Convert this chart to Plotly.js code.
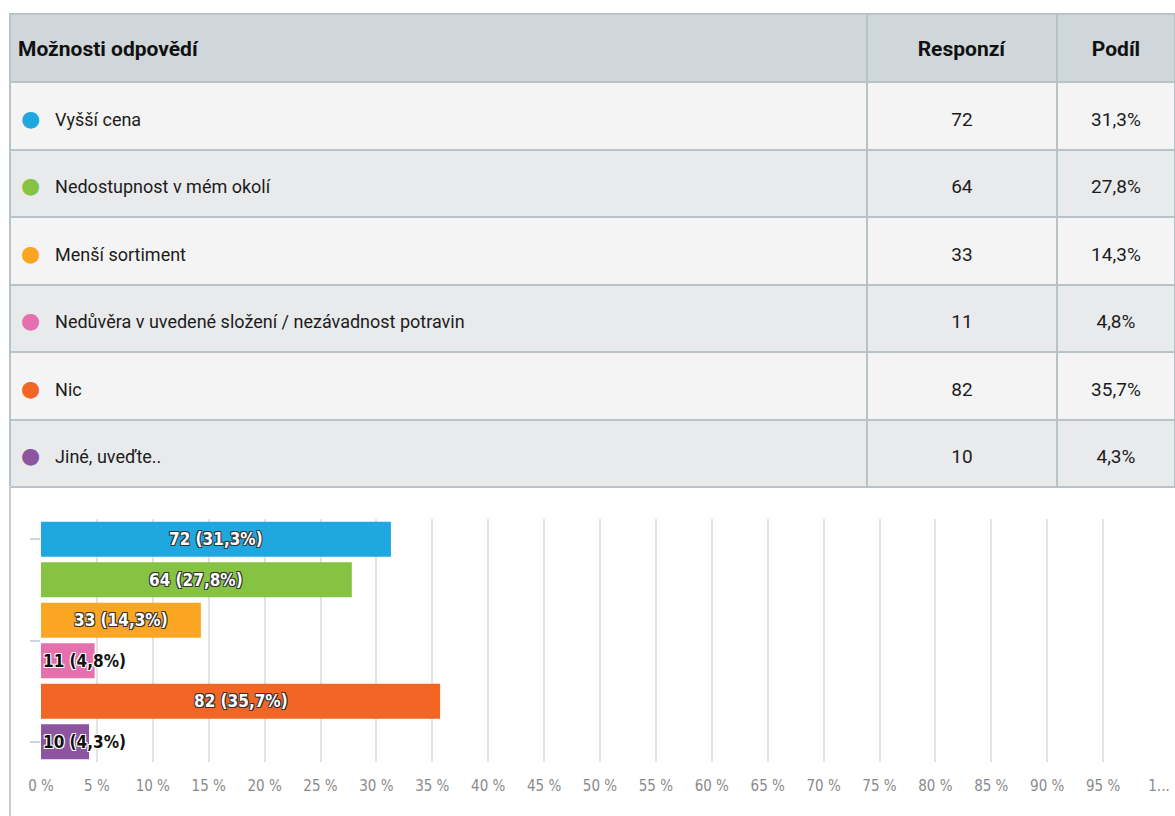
<!DOCTYPE html>
<html>
<head>
<meta charset="utf-8">
<script src="https://cdn.plot.ly/plotly-3.0.1.min.js"></script>
<style>
html,body{margin:0;padding:0;background:#fff;}
#chart{width:1175px;height:816px;}
</style>
</head>
<body>
<div id="chart"></div>
<script>
var headers = ['Možnosti odpovědí', 'Responzí', 'Podíl'];
var options = ['Vyšší cena', 'Nedostupnost v mém okolí', 'Menší sortiment',
  'Nedůvěra v uvedené složení / nezávadnost potravin', 'Nic', 'Jiné, uveďte..'];
var responses = [72, 64, 33, 11, 82, 10];
var shares = [31.3, 27.8, 14.3, 4.8, 35.7, 4.3];
var colors = ['#1fa8e0', '#86c343', '#faa622', '#e66fae', '#f26524', '#8d55a0'];
var xTickVals = [0,5,10,15,20,25,30,35,40,45,50,55,60,65,70,75,80,85,90,95,100];
var xTickText = ['0 %','5 %','10 %','15 %','20 %','25 %','30 %','35 %','40 %','45 %','50 %','55 %','60 %','65 %','70 %','75 %','80 %','85 %','90 %','95 %','1...'];

var FONT = 'Roboto, "DejaVu Sans", sans-serif';
var LFONT = '"DejaVu Sans Condensed", "DejaVu Sans", sans-serif';
var NB = '\u00a0';
function fmt(v){ return v.toFixed(1).replace('.', ',') + '%'; }
// first line is a blank spacer line that pushes the visible text down into the cell middle
function cell(t, px){ return NB + '<br><span style="font-size:' + px + 'px">' + t + '</span>'; }

var idx = options.map(function(_, i){ return i; });
var rowFills = idx.map(function(i){ return i % 2 === 0 ? '#f4f4f4' : '#e8eaeb'; });
var col1 = options.map(function(o, i){
  return NB + '<br><span style="font-size:12px">' + NB + '</span>' +
         '<span style="font-size:22px;color:' + colors[i] + '">●</span>' +
         '<span style="font-size:20px">' + NB + NB + NB + '</span>' +
         '<span style="font-size:18px">' + o + '</span>';
});

var table = {
  type: 'table',
  domain: {x: [10/1175, 1], y: [1 - 487/816, 1 - 14/816]},
  columnwidth: [857, 190, 118],
  header: {
    values: headers.map(function(h){ return cell('<b>' + h + '</b>', 21); }),
    align: ['left', 'center', 'center'],
    height: 68,
    fill: {color: '#d0d7da'},
    line: {color: '#b8c3c7', width: 2},
    font: {family: FONT, size: 15, color: '#111'}
  },
  cells: {
    values: [col1, responses.map(function(r){ return cell(String(r), 19); }),
             shares.map(function(s){ return cell(fmt(s), 19); })],
    align: ['left', 'center', 'center'],
    height: 67.5,
    fill: {color: [rowFills, rowFills, rowFills]},
    line: {color: '#b8c3c7', width: 2},
    font: {family: FONT, size: 16, color: '#1c1c1c'}
  }
};

var bar = {
  type: 'bar',
  orientation: 'h',
  x: shares,
  y: idx,
  width: 0.87,
  marker: {color: colors, line: {width: 0}},
  hoverinfo: 'skip',
  xaxis: 'x', yaxis: 'y'
};

var annotations = shares.map(function(s, i){
  var inside = s > 10;
  return {
    xref: 'x', yref: 'y',
    x: inside ? s / 2 : 0,
    y: i,
    xanchor: inside ? 'center' : 'left',
    yanchor: 'middle',
    text: '<b>' + responses[i] + ' (' + fmt(s) + ')</b>',
    showarrow: false,
    font: inside
      ? {family: LFONT, size: 17, color: '#ffffff', shadow: '-1px -1px 0 #333, 1px -1px 0 #333, -1px 1px 0 #333, 1px 1px 0 #333'}
      : {family: LFONT, size: 17, color: '#111111', shadow: '-1px -1px 0 #fff, 1px -1px 0 #fff, -1px 1px 0 #fff, 1px 1px 0 #fff'}
  };
});

var layout = {
  width: 1175, height: 816,
  margin: {l: 0, r: 0, t: 0, b: 0},
  paper_bgcolor: '#ffffff', plot_bgcolor: '#ffffff',
  showlegend: false,
  xaxis: {
    domain: [41/1175, 1159/1175],
    range: [0, 100],
    tickvals: xTickVals, ticktext: xTickText,
    showgrid: true, gridcolor: '#e3e3e3', gridwidth: 2,
    zeroline: false, showline: false, ticks: '',
    ticklabelstandoff: 13,
    tickfont: {family: LFONT, size: 15, color: '#8a8a8a'},
    fixedrange: true
  },
  yaxis: {
    domain: [1 - 762/816, 1 - 519/816],
    range: [5.5, -0.5],
    tickvals: [0, 2.5, 5],
    showticklabels: false,
    ticks: 'outside', ticklen: 10, tickwidth: 2, tickcolor: '#cdd4e6',
    showgrid: false, zeroline: false, showline: false,
    fixedrange: true
  },
  shapes: [{
    type: 'line', xref: 'paper', yref: 'paper',
    x0: 10/1175, x1: 10/1175, y0: 0, y1: 1 - 487/816,
    line: {color: '#c4cdd1', width: 2}
  }, {
    type: 'line', xref: 'paper', yref: 'paper',
    x0: 10/1175, x1: 1, y0: 1 - 487/816, y1: 1 - 487/816,
    line: {color: '#b8c3c7', width: 2}
  }],
  annotations: annotations
};

Plotly.newPlot('chart', [table, bar], layout, {displayModeBar: false, staticPlot: true});
</script>
</body>
</html>
